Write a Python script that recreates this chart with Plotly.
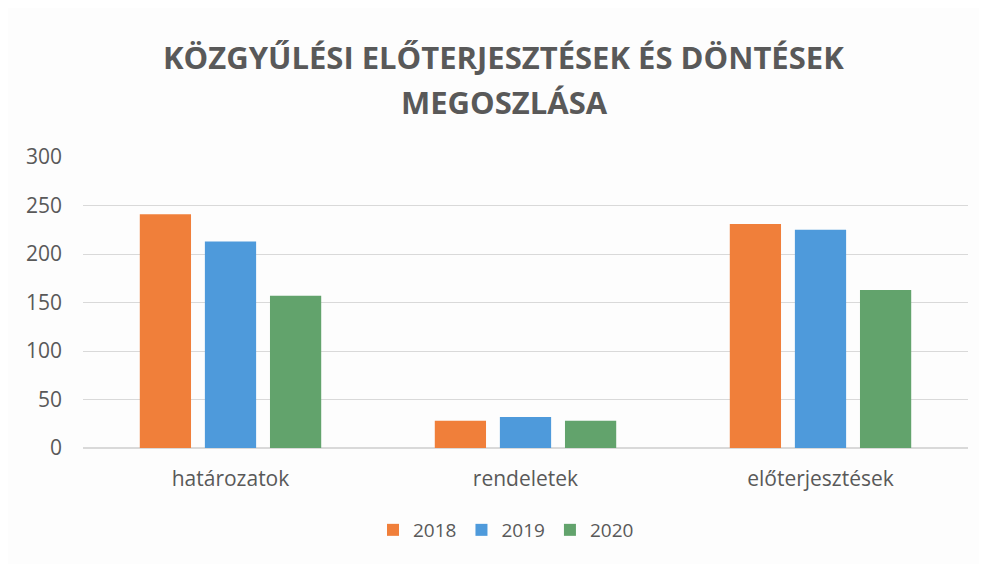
import plotly.graph_objects as go

categories = ["határozatok", "rendeletek", "előterjesztések"]
years = ["2018", "2019", "2020"]
values_2018 = [241, 28, 231]
values_2019 = [213, 32, 225]
values_2020 = [157, 28, 163]
colors = ["#F07F3A", "#4E9ADB", "#62A36C"]
y_ticks = [0, 50, 100, 150, 200, 250, 300]

series = [values_2018, values_2019, values_2020]
FONT = "Open Sans"
GRAY = "#595959"

# page body has an 8px margin; compensate so the plot area lands at 83..968 x 157..448
L, T, R, B = 75, 149, 27, 124
PW = 987 - L - R

fig = go.Figure()
for name, vals, col in zip(years, series, colors):
    fig.add_trace(go.Bar(name=name, x=categories, y=vals, marker=dict(color=col, line=dict(width=0))))

def px_x(p):
    # page pixel -> paper x
    return (p - 8 - L) / PW

def px_y(p):
    # page pixel -> paper y
    return (448 - p) / 291

fig.update_layout(
    width=987, height=564,
    margin=dict(l=L, r=R, t=T, b=B),
    paper_bgcolor="#fdfdfd", plot_bgcolor="#fdfdfd",
    barmode="group", bargap=0.338, bargroupgap=0.213,
    font=dict(family=FONT, color=GRAY, size=21),
    showlegend=True,
    legend=dict(orientation="h", x=px_x(506), xanchor="center", y=px_y(530), yanchor="middle",
                font=dict(size=19, color=GRAY), itemwidth=30, traceorder="normal"),
    annotations=[
        dict(text="<b>KÖZGYŰLÉSI ELŐTERJESZTÉSEK ÉS DÖNTÉSEK</b>", x=px_x(503), xref="paper",
             y=px_y(57), yref="paper", showarrow=False, xanchor="center", yanchor="middle",
             font=dict(size=31, color=GRAY, family=FONT)),
        dict(text="<b>MEGOSZLÁSA</b>", x=px_x(504), xref="paper", y=px_y(102), yref="paper",
             showarrow=False, xanchor="center", yanchor="middle", font=dict(size=31, color=GRAY, family=FONT)),
    ],
)

fig.update_yaxes(range=[0, 300], tickvals=y_ticks, showgrid=True, gridcolor="#d9d9d9", gridwidth=1,
                 zeroline=True, zerolinecolor="#d9d9d9", showline=False, ticks="", ticklabelstandoff=20)
fig.update_xaxes(showline=False, ticks="", ticklabelstandoff=16)

fig.write_html("out.html")
